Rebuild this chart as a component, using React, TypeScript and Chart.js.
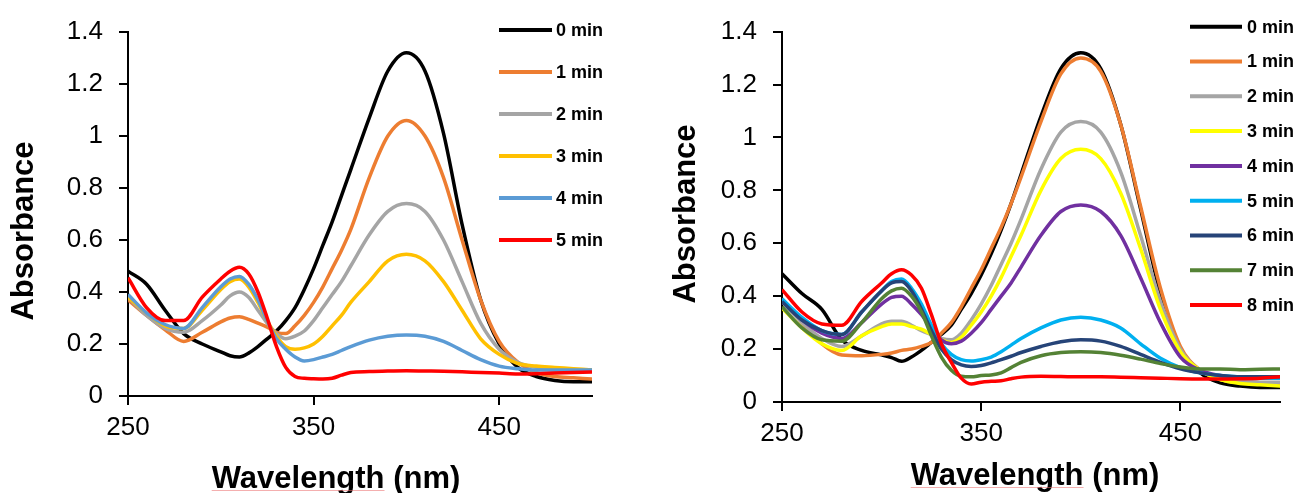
import React, { useEffect, useRef } from "react";
import { Chart, registerables } from "chart.js";

Chart.register(...registerables);

// ---------- data ----------
const WAVELENGTH = [250, 260, 270, 280, 290, 300, 305, 310, 315, 320, 325, 330, 335, 340, 345, 350, 355, 360, 365, 370, 380, 390, 400, 410, 420, 430, 440, 450, 460, 470, 480, 490, 500];

const X_TICKS = [250, 350, 450];
const Y_TICKS = [0, 0.2, 0.4, 0.6, 0.8, 1, 1.2, 1.4];
const Y_TICK_LABELS = ["0", "0.2", "0.4", "0.6", "0.8", "1", "1.2", "1.4"];

const X_TITLE = "Wavelength (nm)";
const Y_TITLE = "Absorbance";

// left panel
const LEFT_LABELS = ["0 min", "1 min", "2 min", "3 min", "4 min", "5 min"];
const LEFT_COLORS = ["#000000", "#ED7D31", "#A5A5A5", "#FFC000", "#5B9BD5", "#FF0000"];
const L_0 = [0.48, 0.43, 0.33, 0.24, 0.2, 0.17, 0.155, 0.15, 0.165, 0.19, 0.22, 0.25, 0.29, 0.34, 0.41, 0.49, 0.58, 0.67, 0.77, 0.87, 1.07, 1.25, 1.32, 1.25, 1.01, 0.66, 0.37, 0.2, 0.11, 0.075, 0.06, 0.055, 0.055];
const L_1 = [0.37, 0.31, 0.255, 0.21, 0.245, 0.285, 0.3, 0.305, 0.295, 0.28, 0.265, 0.245, 0.24, 0.27, 0.31, 0.36, 0.42, 0.49, 0.56, 0.64, 0.84, 1.0, 1.06, 1.0, 0.84, 0.6, 0.37, 0.21, 0.13, 0.09, 0.075, 0.07, 0.065];
const L_2 = [0.38, 0.31, 0.26, 0.245, 0.29, 0.35, 0.385, 0.4, 0.38, 0.33, 0.28, 0.24, 0.22, 0.23, 0.25, 0.29, 0.34, 0.39, 0.44, 0.5, 0.62, 0.71, 0.74, 0.71, 0.6, 0.44, 0.28, 0.18, 0.13, 0.11, 0.1, 0.1, 0.1];
const L_3 = [0.38, 0.32, 0.27, 0.26, 0.33, 0.41, 0.44, 0.45, 0.42, 0.36, 0.29, 0.23, 0.19, 0.18, 0.185, 0.2, 0.23, 0.27, 0.31, 0.36, 0.44, 0.52, 0.545, 0.52, 0.44, 0.33, 0.22, 0.16, 0.125, 0.115, 0.11, 0.105, 0.1];
const L_4 = [0.39, 0.32, 0.275, 0.26, 0.34, 0.42, 0.45, 0.46, 0.43, 0.37, 0.29, 0.22, 0.18, 0.15, 0.135, 0.14, 0.15, 0.16, 0.175, 0.19, 0.215, 0.23, 0.235, 0.23, 0.21, 0.175, 0.14, 0.115, 0.105, 0.1, 0.1, 0.1, 0.1];
const L_5 = [0.455, 0.34, 0.29, 0.29, 0.38, 0.45, 0.48, 0.495, 0.47, 0.4, 0.3, 0.19, 0.11, 0.075, 0.068, 0.066, 0.065, 0.068, 0.08, 0.09, 0.094, 0.096, 0.097, 0.096, 0.095, 0.093, 0.09, 0.088, 0.085, 0.086, 0.088, 0.09, 0.092];
const LEFT_SERIES = [L_0, L_1, L_2, L_3, L_4, L_5];

// right panel
const RIGHT_LABELS = ["0 min", "1 min", "2 min", "3 min", "4 min", "5 min", "6 min", "7 min", "8 min"];
const RIGHT_COLORS = ["#000000", "#ED7D31", "#A5A5A5", "#FFFF00", "#7030A0", "#00B0F0", "#264478", "#548235", "#FF0000"];
const R_0 = [0.485, 0.41, 0.35, 0.235, 0.195, 0.178, 0.168, 0.154, 0.17, 0.195, 0.225, 0.255, 0.29, 0.35, 0.41, 0.48, 0.56, 0.65, 0.75, 0.86, 1.08, 1.26, 1.32, 1.26, 1.05, 0.73, 0.41, 0.2, 0.11, 0.072, 0.06, 0.055, 0.055];
const R_1 = [0.39, 0.3, 0.22, 0.178, 0.175, 0.18, 0.185, 0.195, 0.2, 0.21, 0.225, 0.26, 0.3, 0.36, 0.43, 0.5, 0.58, 0.66, 0.75, 0.85, 1.06, 1.24, 1.3, 1.25, 1.05, 0.74, 0.43, 0.21, 0.12, 0.085, 0.075, 0.07, 0.07];
const R_2 = [0.38, 0.3, 0.24, 0.21, 0.25, 0.295, 0.305, 0.305, 0.29, 0.27, 0.255, 0.24, 0.235, 0.26, 0.31, 0.37, 0.44, 0.52, 0.6, 0.69, 0.88, 1.02, 1.06, 1.02, 0.87, 0.63, 0.38, 0.2, 0.12, 0.09, 0.08, 0.075, 0.075];
const R_3 = [0.355, 0.28, 0.22, 0.195, 0.25, 0.285, 0.295, 0.295, 0.285, 0.275, 0.255, 0.235, 0.225, 0.245, 0.29, 0.34, 0.4, 0.47, 0.55, 0.63, 0.8, 0.92, 0.955, 0.92, 0.79, 0.58, 0.35, 0.19, 0.12, 0.085, 0.07, 0.065, 0.06];
const R_4 = [0.38, 0.31, 0.26, 0.24, 0.3, 0.37, 0.395, 0.4, 0.37, 0.33, 0.28, 0.235, 0.22, 0.23, 0.26, 0.3, 0.35, 0.4, 0.45, 0.51, 0.63, 0.72, 0.745, 0.72, 0.63, 0.47, 0.3, 0.17, 0.12, 0.1, 0.09, 0.09, 0.09];
const R_5 = [0.39, 0.32, 0.27, 0.255, 0.34, 0.42, 0.455, 0.465, 0.43, 0.37, 0.29, 0.22, 0.18, 0.16, 0.155, 0.16, 0.17, 0.19, 0.215, 0.24, 0.28, 0.31, 0.32, 0.31, 0.28, 0.22, 0.165, 0.13, 0.11, 0.1, 0.095, 0.09, 0.09];
const R_6 = [0.38, 0.31, 0.27, 0.255, 0.34, 0.42, 0.45, 0.455, 0.42, 0.35, 0.27, 0.2, 0.16, 0.14, 0.134, 0.138, 0.148, 0.16, 0.173, 0.187, 0.21, 0.228, 0.235, 0.23, 0.21, 0.18, 0.15, 0.125, 0.11, 0.1, 0.095, 0.095, 0.095];
const R_7 = [0.36, 0.28, 0.235, 0.23, 0.3, 0.39, 0.42, 0.43, 0.4, 0.34, 0.25, 0.17, 0.12, 0.097, 0.095, 0.1, 0.102, 0.11, 0.13, 0.15, 0.175, 0.187, 0.19, 0.187, 0.177, 0.162, 0.145, 0.132, 0.125, 0.125, 0.122, 0.124, 0.125];
const R_8 = [0.425, 0.34, 0.295, 0.29, 0.38, 0.45, 0.485, 0.5, 0.48, 0.43, 0.33, 0.22, 0.15, 0.09, 0.068, 0.075, 0.078, 0.08, 0.088, 0.094, 0.097, 0.096, 0.095, 0.095, 0.094, 0.092, 0.09, 0.088, 0.087, 0.087, 0.088, 0.09, 0.095];
const RIGHT_SERIES = [R_0, R_1, R_2, R_3, R_4, R_5, R_6, R_7, R_8];

// ---------- styling ----------
const FONT = "'Liberation Sans', Arial, Helvetica, sans-serif";

type PanelCfg = {
  left: number;
  width: number;
  height: number;
  area: { left: number; right: number; top: number; bottom: number };
  labels: string[];
  colors: string[];
  series: number[][];
  legend: { x1: number; x2: number; tx: number; y0: number; dy: number };
  xTitle: { x: number; y: number };
  yTitle: { x: number; y: number };
};

const annotPlugin = {
  id: "annot",
  afterDraw(chart: any, _args: any, opts: any) {
    const ctx = chart.ctx as CanvasRenderingContext2D;
    ctx.save();
    // legend
    const lg = opts.legend;
    chart.data.datasets.forEach((ds: any, i: number) => {
      const y = lg.y0 + i * lg.dy;
      ctx.strokeStyle = ds.borderColor;
      ctx.lineWidth = 4;
      ctx.lineCap = "butt";
      ctx.beginPath();
      ctx.moveTo(lg.x1, y);
      ctx.lineTo(lg.x2, y);
      ctx.stroke();
      ctx.fillStyle = "#000";
      ctx.font = `bold 18px ${FONT}`;
      ctx.textAlign = "left";
      ctx.textBaseline = "middle";
      ctx.fillText(ds.label, lg.tx, y + 1);
    });
    // axis titles
    ctx.fillStyle = "#000";
    ctx.font = `bold 31px ${FONT}`;
    ctx.textAlign = "center";
    ctx.textBaseline = "alphabetic";
    ctx.fillText(opts.xTitleText, opts.xTitle.x, opts.xTitle.y);
    // faint proofing underline beneath the first word, as in the source picture
    const word = opts.xTitleText.split(" ")[0];
    const full = ctx.measureText(opts.xTitleText).width;
    const w = ctx.measureText(word).width;
    const x0 = opts.xTitle.x - full / 2;
    ctx.strokeStyle = "rgba(235,110,110,0.55)";
    ctx.lineWidth = 1;
    ctx.beginPath();
    ctx.moveTo(x0, opts.xTitle.y + 2.5);
    ctx.lineTo(x0 + w, opts.xTitle.y + 2.5);
    ctx.stroke();
    ctx.translate(opts.yTitle.x, opts.yTitle.y);
    ctx.rotate(-Math.PI / 2);
    ctx.fillText(opts.yTitleText, 0, 0);
    ctx.restore();
  },
};

function Panel({ cfg }: { cfg: PanelCfg }) {
  const ref = useRef<HTMLCanvasElement | null>(null);
  useEffect(() => {
    if (!ref.current) return;
    const a = cfg.area;
    const datasets = cfg.series.map((vals, i) => ({
      label: cfg.labels[i],
      data: vals.map((v, j) => ({ x: WAVELENGTH[j], y: v })),
      borderColor: cfg.colors[i],
      backgroundColor: cfg.colors[i],
      borderWidth: 3.5,
      pointRadius: 0,
      fill: false,
      cubicInterpolationMode: "monotone" as const,
      order: -i,
    }));
    const tickGrid = { drawOnChartArea: false, drawTicks: true, tickLength: 9, color: "#000", lineWidth: 2 };
    const chart = new Chart(ref.current, {
      type: "line",
      data: { datasets },
      plugins: [annotPlugin],
      options: {
        animation: false,
        responsive: false,
        maintainAspectRatio: false,
        devicePixelRatio: 1,
        layout: { padding: { left: 0, right: cfg.width - a.right, top: a.top, bottom: 0 } },
        plugins: {
          legend: { display: false },
          tooltip: { enabled: false },
          annot: {
            legend: cfg.legend,
            xTitle: cfg.xTitle,
            yTitle: cfg.yTitle,
            xTitleText: X_TITLE,
            yTitleText: Y_TITLE,
          },
        } as any,
        scales: {
          x: {
            type: "linear",
            min: 250,
            max: 500,
            afterBuildTicks: (s: any) => {
              s.ticks = X_TICKS.map((v) => ({ value: v }));
            },
            afterFit: (s: any) => {
              s.height = cfg.height - a.bottom;
            },
            grid: tickGrid,
            border: { display: true, color: "#000", width: 2 },
            ticks: {
              font: { family: FONT, size: 26 },
              color: "#000",
              padding: 7,
              maxRotation: 0,
              autoSkip: false,
              callback: (v: any) => String(v),
            },
          },
          y: {
            type: "linear",
            min: 0,
            max: 1.4,
            afterBuildTicks: (s: any) => {
              s.ticks = Y_TICKS.map((v) => ({ value: v }));
            },
            afterFit: (s: any) => {
              s.width = a.left;
            },
            grid: tickGrid,
            border: { display: true, color: "#000", width: 2 },
            ticks: {
              font: { family: FONT, size: 26 },
              color: "#000",
              padding: 16,
              autoSkip: false,
              callback: (_v: any, i: number) => Y_TICK_LABELS[i],
            },
          },
        },
      } as any,
    });
    return () => chart.destroy();
  }, [cfg]);
  return (
    <canvas
      ref={ref}
      width={cfg.width}
      height={cfg.height}
      style={{ position: "absolute", left: cfg.left, top: 0, width: cfg.width, height: cfg.height, display: "block" }}
    />
  );
}

const LEFT_CFG: PanelCfg = {
  left: 0,
  width: 648,
  height: 493,
  area: { left: 128, right: 592, top: 32, bottom: 396 },
  labels: LEFT_LABELS,
  colors: LEFT_COLORS,
  series: LEFT_SERIES,
  legend: { x1: 499, x2: 552, tx: 556, y0: 30, dy: 42 },
  xTitle: { x: 336, y: 488 },
  yTitle: { x: 33, y: 231 },
};

const RIGHT_CFG: PanelCfg = {
  left: 648,
  width: 648,
  height: 493,
  area: { left: 134, right: 632, top: 26, bottom: 402 },
  labels: RIGHT_LABELS,
  colors: RIGHT_COLORS,
  series: RIGHT_SERIES,
  legend: { x1: 542, x2: 594, tx: 599, y0: 26.7, dy: 34.8 },
  xTitle: { x: 387, y: 485 },
  yTitle: { x: 46.5, y: 214 },
};

export default function App() {
  return (
    <div style={{ position: "absolute", left: 0, top: 0, width: 1296, height: 493, background: "#fff", overflow: "hidden" }}>
      <Panel cfg={LEFT_CFG} />
      <Panel cfg={RIGHT_CFG} />
    </div>
  );
}
